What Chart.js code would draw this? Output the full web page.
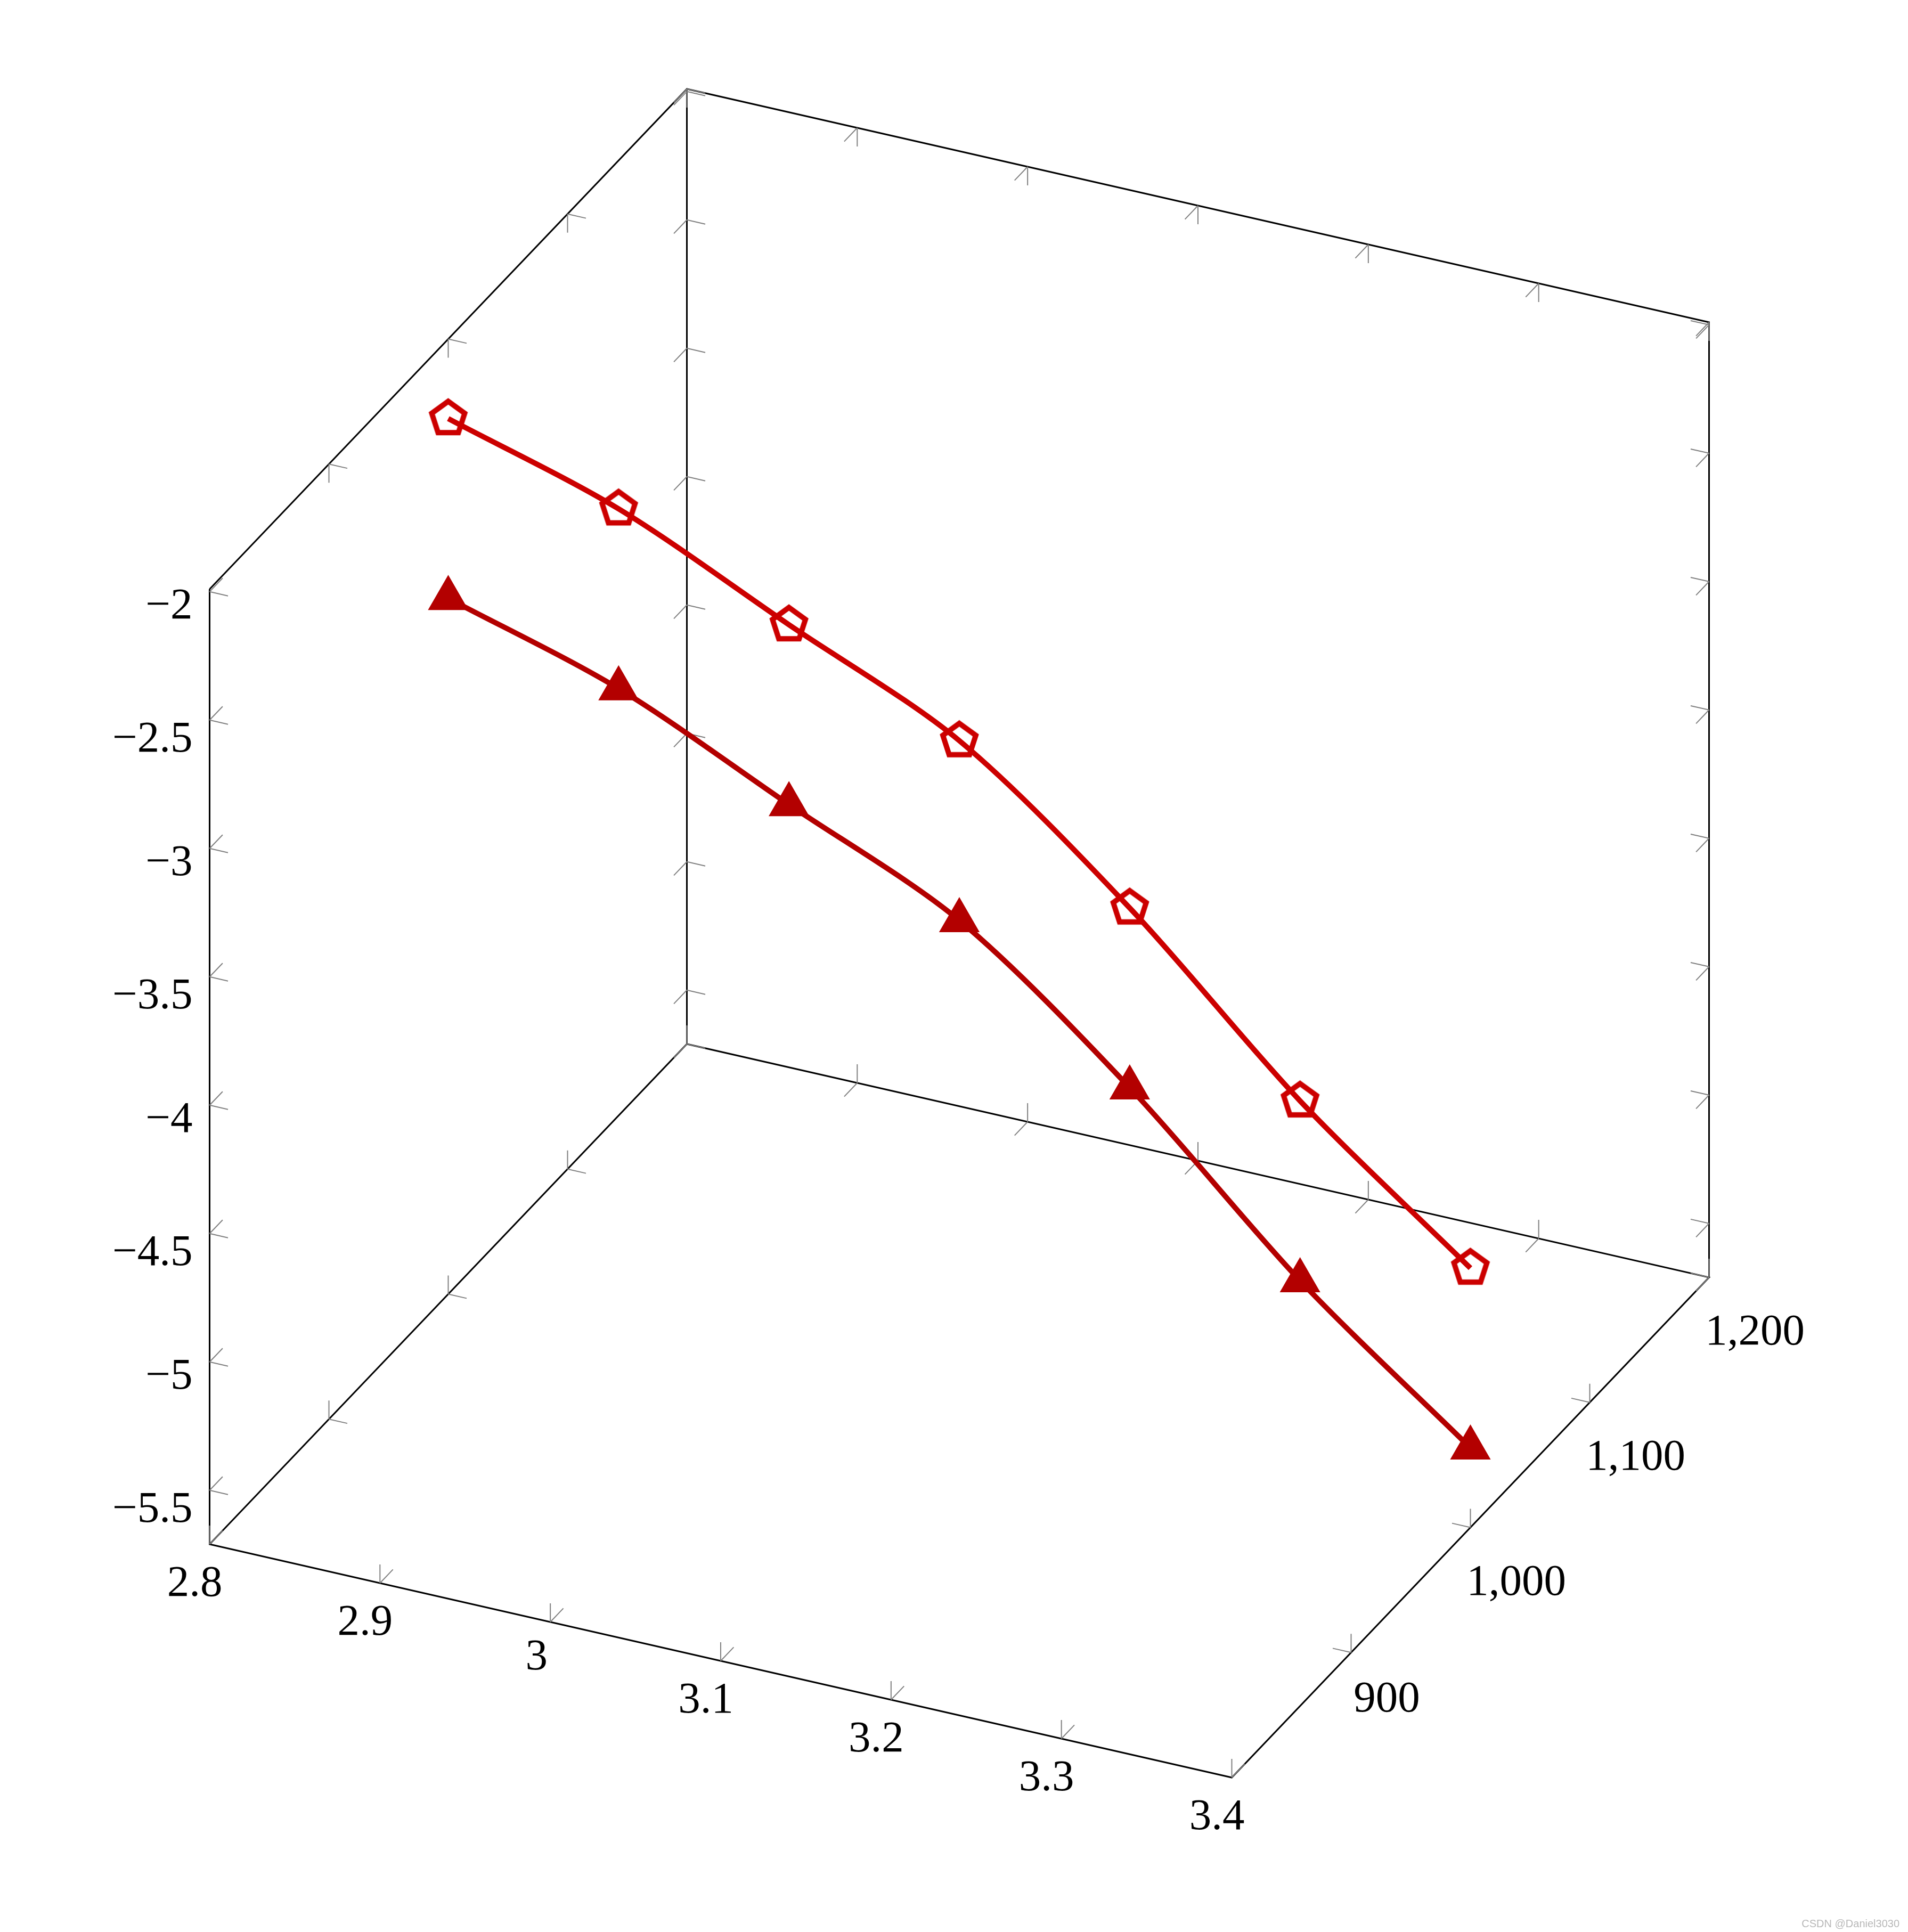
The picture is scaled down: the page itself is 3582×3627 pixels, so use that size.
<!DOCTYPE html>
<html>
<head>
<meta charset="utf-8">
<title>3D line chart</title>
<script src="https://cdn.jsdelivr.net/npm/chart.js@4"></script>
<style>
  html, body { margin: 0; padding: 0; background: #fff; }
  canvas { display: block; }
</style>
</head>
<body>
<canvas id="chart3d" width="3582" height="3627"></canvas>
<script>
// data
const xValues = [2.8, 2.9, 3.0, 3.1, 3.2, 3.3, 3.4];
const yValues = [1000, 1000, 1000, 1000, 1000, 1000, 1000];
const zPentagon = [-2.3, -2.5, -2.8, -3.1, -3.6, -4.2, -4.7];
const zTriangle = [-3.0, -3.2, -3.5, -3.8, -4.3, -4.9, -5.4];

// ticks
const xTicks = [2.8, 2.9, 3.0, 3.1, 3.2, 3.3, 3.4];
const xTickLabels = ['2.8', '2.9', '3', '3.1', '3.2', '3.3', '3.4'];
const yTicks = [900, 1000, 1100, 1200];
const yTickLabels = ['900', '1,000', '1,100', '1,200'];
const zTicks = [-2, -2.5, -3, -3.5, -4, -4.5, -5, -5.5];
const zTickLabels = ['\u22122', '\u22122.5', '\u22123', '\u22123.5', '\u22124', '\u22124.5', '\u22125', '\u22125.5'];

// axis box
const xMin = 2.8, xMax = 3.4;
const yMin = 800, yMax = 1200;
const zMin = -5.71, zMax = -1.99;

// view: where the box sits in the picture
const WIDTH = 3582, HEIGHT = 3627;
const origin = [393.5, 2899];
const xSpan = [1919, 438];
const ySpan = [896, -939];
const zSpan = [0, -1793];

function project(x, y, z) {
  const a = (x - xMin) / (xMax - xMin);
  const b = (y - yMin) / (yMax - yMin);
  const c = (z - zMin) / (zMax - zMin);
  return {
    x: origin[0] + a * xSpan[0] + b * ySpan[0] + c * zSpan[0],
    y: origin[1] + a * xSpan[1] + b * ySpan[1] + c * zSpan[1],
  };
}

// tick stubs, about 35px long
const xTickLen = 0.0108, yTickLen = 10.9, zTickLen = 0.0726;
const gap = { x: NaN, y: NaN };
const tickPoints = [];

function stub(x, y, z, dx, dy, dz) {
  tickPoints.push(project(x, y, z), project(x + dx, y + dy, z + dz), gap);
}

zTicks.forEach((z) => {
  stub(xMin, yMin, z, xTickLen, 0, 0);
  stub(xMin, yMin, z, 0, yTickLen, 0);
  stub(xMin, yMax, z, xTickLen, 0, 0);
  stub(xMin, yMax, z, 0, -yTickLen, 0);
  stub(xMax, yMax, z, -xTickLen, 0, 0);
  stub(xMax, yMax, z, 0, -yTickLen, 0);
});
xTicks.forEach((x) => {
  stub(x, yMin, zMin, 0, 0, zTickLen);
  stub(x, yMin, zMin, 0, yTickLen, 0);
  stub(x, yMax, zMin, 0, 0, zTickLen);
  stub(x, yMax, zMin, 0, -yTickLen, 0);
  stub(x, yMax, zMax, 0, 0, -zTickLen);
  stub(x, yMax, zMax, 0, -yTickLen, 0);
});
yTicks.forEach((y) => {
  stub(xMin, y, zMin, xTickLen, 0, 0);
  stub(xMin, y, zMin, 0, 0, zTickLen);
  stub(xMax, y, zMin, -xTickLen, 0, 0);
  stub(xMax, y, zMin, 0, 0, zTickLen);
  stub(xMin, y, zMax, xTickLen, 0, 0);
  stub(xMin, y, zMax, 0, 0, -zTickLen);
});

const boxPoints = [
  project(xMin, yMin, zMax),
  project(xMin, yMin, zMin),
  project(xMax, yMin, zMin),
  project(xMax, yMax, zMin),
  project(xMin, yMax, zMin),
  project(xMin, yMin, zMin),
  gap,
  project(xMin, yMin, zMax),
  project(xMin, yMax, zMax),
  project(xMax, yMax, zMax),
  project(xMax, yMax, zMin),
  gap,
  project(xMin, yMax, zMax),
  project(xMin, yMax, zMin),
];

function seriesPoints(zValues) {
  return xValues.map((x, i) => project(x, yValues[i], zValues[i]));
}

// open pentagon marker, Chart.js has no such point style
function pentagonMarker(color) {
  const size = 100, r = 32.5;
  const c = document.createElement('canvas');
  c.width = size;
  c.height = size;
  const g = c.getContext('2d');
  g.strokeStyle = color;
  g.lineWidth = 10;
  g.lineJoin = 'miter';
  g.beginPath();
  for (let i = 0; i < 5; i++) {
    const a = -Math.PI / 2 + i * 2 * Math.PI / 5;
    g.lineTo(size / 2 + r * Math.cos(a), size / 2 + r * Math.sin(a));
  }
  g.closePath();
  g.stroke();
  return c;
}

// tick labels and the watermark, placed through the chart scales
const labelsPlugin = {
  id: 'boxLabels',
  afterDraw(chart) {
    const { ctx, scales } = chart;
    const put = (text, p, dx, dy, align) => {
      ctx.textAlign = align;
      ctx.fillText(text, scales.x.getPixelForValue(p.x) + dx, scales.y.getPixelForValue(p.y) + dy);
    };
    ctx.save();
    ctx.fillStyle = '#000';
    ctx.textBaseline = 'alphabetic';
    ctx.font = '83px "Liberation Serif"';
    xTicks.forEach((x, i) => {
      const short = xTickLabels[i].length === 1;
      put(xTickLabels[i], project(x, yMin, zMin), short ? -26 : -28, short ? 89 : 97, 'center');
    });
    yTicks.forEach((y, i) => {
      const short = yTickLabels[i].length === 3;
      put(yTickLabels[i], project(xMax, y, zMin), short ? 67 : 86, short ? 111 : 126, 'center');
    });
    zTicks.forEach((z, i) => {
      const short = zTickLabels[i].length === 2;
      put(zTickLabels[i], project(xMin, yMin, z), -32, short ? 50 : 59, 'right');
    });
    ctx.font = '20px "Liberation Sans"';
    ctx.fillStyle = '#b8b8b8';
    ctx.textAlign = 'right';
    ctx.fillText('CSDN @Daniel3030', 3566, 3618);
    ctx.restore();
  },
};

new Chart(document.getElementById('chart3d'), {
  type: 'scatter',
  data: {
    datasets: [
      {
        label: 'pentagon',
        data: seriesPoints(zPentagon),
        showLine: true,
        tension: 0.3,
        borderColor: '#cc0000',
        borderWidth: 10,
        pointStyle: pentagonMarker('#cc0000'),
        pointRadius: 38,
        order: 1,
      },
      {
        label: 'triangle',
        data: seriesPoints(zTriangle),
        showLine: true,
        tension: 0.3,
        borderColor: '#b30000',
        borderWidth: 10,
        pointStyle: 'triangle',
        pointRadius: 44,
        pointBackgroundColor: '#b30000',
        pointBorderWidth: 0,
        order: 2,
      },
      {
        label: 'ticks',
        data: tickPoints,
        showLine: true,
        borderColor: '#808080',
        borderWidth: 2,
        pointRadius: 0,
        order: 3,
      },
      {
        label: 'box',
        data: boxPoints,
        showLine: true,
        borderColor: '#000000',
        borderWidth: 3,
        pointRadius: 0,
        order: 4,
      },
    ],
  },
  options: {
    responsive: false,
    animation: false,
    devicePixelRatio: 1,
    layout: { padding: 0, autoPadding: false },
    scales: {
      x: { type: 'linear', min: 0, max: WIDTH, display: false },
      y: { type: 'linear', min: 0, max: HEIGHT, reverse: true, display: false },
    },
    plugins: {
      legend: { display: false },
      tooltip: { enabled: false },
    },
  },
  plugins: [labelsPlugin],
});
</script>
</body>
</html>
